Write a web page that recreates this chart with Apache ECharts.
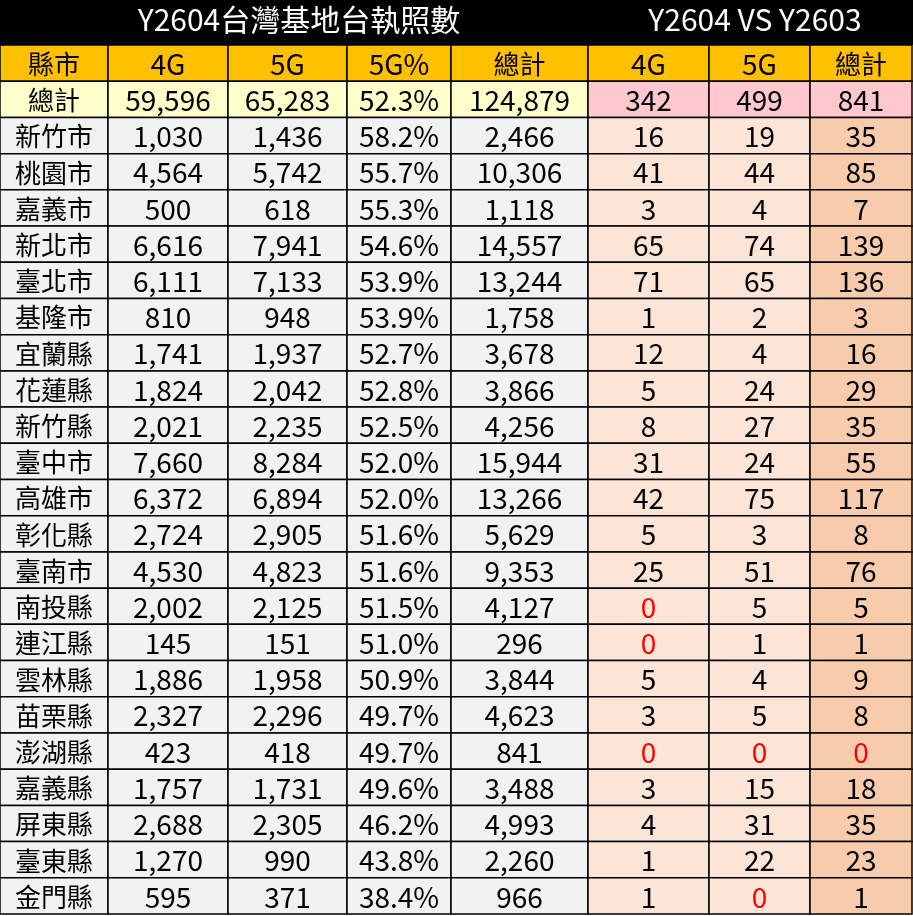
<!DOCTYPE html><html><head><meta charset="utf-8">
<script src="https://cdn.jsdelivr.net/npm/echarts@6/dist/echarts.min.js"></script>
<style>html,body{margin:0;padding:0;background:#fff}#c{width:913px;height:916px}</style></head><body><div id="c"></div>
<script>
const headers = ['縣市','4G','5G','5G%','總計','4G','5G','總計'];
const titleLeft = 'Y2604台灣基地台執照數';
const titleRight = 'Y2604 VS Y2603';
const cities = ['總計','新竹市','桃園市','嘉義市','新北市','臺北市','基隆市','宜蘭縣','花蓮縣','新竹縣','臺中市','高雄市','彰化縣','臺南市','南投縣','連江縣','雲林縣','苗栗縣','澎湖縣','嘉義縣','屏東縣','臺東縣','金門縣'];
const count4G = [59596,1030,4564,500,6616,6111,810,1741,1824,2021,7660,6372,2724,4530,2002,145,1886,2327,423,1757,2688,1270,595];
const count5G = [65283,1436,5742,618,7941,7133,948,1937,2042,2235,8284,6894,2905,4823,2125,151,1958,2296,418,1731,2305,990,371];
const pct5G = [52.3,58.2,55.7,55.3,54.6,53.9,53.9,52.7,52.8,52.5,52.0,52.0,51.6,51.6,51.5,51.0,50.9,49.7,49.7,49.6,46.2,43.8,38.4];
const total = [124879,2466,10306,1118,14557,13244,1758,3678,3866,4256,15944,13266,5629,9353,4127,296,3844,4623,841,3488,4993,2260,966];
const diff4G = [342,16,41,3,65,71,1,12,5,8,31,42,5,25,0,0,5,3,0,3,4,1,1];
const diff5G = [499,19,44,4,74,65,2,4,24,27,24,75,3,51,5,1,4,5,0,15,31,22,0];
const diffTotal = [841,35,85,7,139,136,3,16,29,35,55,117,8,76,5,1,9,8,0,18,35,23,1];

const fmt = v => v.toLocaleString('en-US');
const columns = [
  cities, count4G.map(fmt), count5G.map(fmt), pct5G.map(v=>v.toFixed(1)+'%'), total.map(fmt),
  diff4G.map(String), diff5G.map(String), diffTotal.map(String)
];
const colEdges = [0,108,228,347,451,588,709,810,912];
const rowsCat = ['header'].concat(cities.map((c,i)=>'r'+i));
const TOP = 45, H = 869;

function fill(col,row){
  if(row===0) return '#FFC000';
  if(row===1) return col<=4 ? '#FFFFCC' : '#FFC7CE';
  if(col<=4) return '#F2F2F2';
  return col===7 ? '#F8CBAD' : '#FCE4D6';
}
const grids=[],xAxes=[],yAxes=[],series=[];
columns.forEach((vals,ci)=>{
  grids.push({left:colEdges[ci],width:colEdges[ci+1]-colEdges[ci],top:TOP,height:H});
  xAxes.push({type:'category',data:['c'],gridIndex:ci,show:false});
  yAxes.push({type:'category',data:rowsCat,inverse:true,gridIndex:ci,show:false});
  const data = [headers[ci]].concat(vals).map((t,ri)=>[0,ri,t]);
  series.push({type:'custom',xAxisIndex:ci,yAxisIndex:ci,data:data,
    renderItem:(params,api)=>{
      const ri=api.value(1);
      const p=api.coord([0,ri]); const s=api.size([1,1]);
      const txt=data[ri][2];
      const isZero = ci>=5 && ri>=2 && txt==='0';
      const cjk = /[\u4e00-\u9fff]/.test(txt);
      return {type:'group',children:[
        {type:'rect',shape:{x:p[0]-s[0]/2,y:p[1]-s[1]/2,width:s[0],height:s[1]},
         style:{fill:fill(ci,ri),stroke:'#000',lineWidth:1.5}},
        {type:'text',x:p[0],y:p[1]+1,style:{text:txt,textAlign:'center',textVerticalAlign:'middle',
          fill:isZero?'#FF0000':'#000',font:(cjk?'26px':'28px')+' "Noto Sans CJK TC", "Open Sans", sans-serif'}}
      ]};
    }});
});
const chart=echarts.init(document.getElementById('c'));
const tStyle={color:'#fff',fontSize:30,fontWeight:'normal',fontFamily:'"Noto Sans CJK TC", sans-serif'};
chart.setOption({animation:false,grid:grids,xAxis:xAxes,yAxis:yAxes,series:series,
  graphic:[{type:'rect',shape:{x:0,y:0,width:913,height:45},style:{fill:'#000'}}],
  title:[
    {text:titleLeft,left:(colEdges[0]+colEdges[5])/2,top:0,textAlign:'center',textStyle:tStyle},
    {text:titleRight,left:(colEdges[5]+colEdges[8])/2,top:0,textAlign:'center',textStyle:tStyle}
  ]});
</script></body></html>
